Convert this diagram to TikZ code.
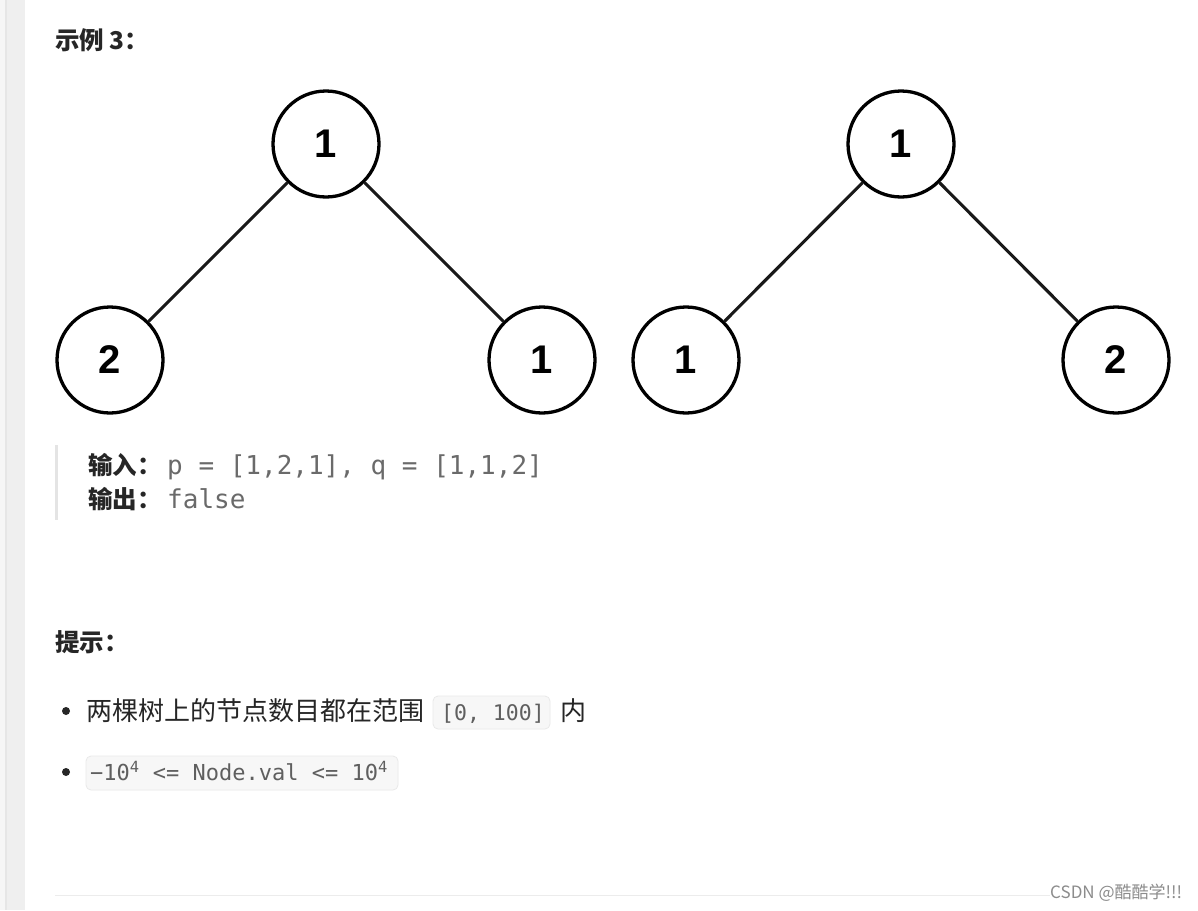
\documentclass[tikz,border=0pt]{standalone}
\usepackage{fontspec}
\setmainfont{Liberation Sans}
\newfontfamily\cjk{Noto Sans CJK SC}
\newfontfamily\monof{DejaVu Sans Mono}
\newfontfamily\digitf{Liberation Sans}
\definecolor{stripA}{HTML}{F6F6F6}
\definecolor{stripB}{HTML}{E6E6E6}
\definecolor{stripC}{HTML}{EFEFEF}
\definecolor{barc}{HTML}{E4E4E4}
\definecolor{txt}{HTML}{262626}
\definecolor{codetxt}{HTML}{6A6A6A}
\definecolor{codebg}{HTML}{F7F7F7}
\definecolor{codebd}{HTML}{E9E9E9}
\definecolor{rulec}{HTML}{ECECEC}
\definecolor{wmark}{HTML}{8C8C8C}
\begin{document}
\begin{tikzpicture}[x=1pt,y=-1pt,
  tn/.style={circle,draw=black,line width=3.3pt,minimum size=106pt,inner sep=0pt,
    font=\digitf\bfseries\fontsize{40}{40}\selectfont},
  edge/.style={line width=3.1pt,draw=black!90},
  lab/.style={anchor=base west,inner sep=0pt,text=txt,font=\cjk\bfseries\fontsize{24.5}{26}\selectfont},
  body/.style={anchor=base west,inner sep=0pt,text=txt,font=\cjk\fontsize{26}{28}\selectfont},
  code/.style={anchor=base west,inner sep=0pt,text=codetxt,font=\monof\fontsize{26}{28}\selectfont},
  icode/.style={anchor=base west,inner sep=0pt,text=codetxt!90!black,font=\monof\fontsize{21.5}{23}\selectfont},
  codebox/.style={fill=codebg,draw=codebd,line width=0.8pt,rounded corners=5pt}]
\fill[white] (0,0) rectangle (1198,910);
\useasboundingbox (0,0) rectangle (1198,910);
% left strip
\fill[stripA] (0,0) rectangle (5,910);
\fill[stripB] (5,0) rectangle (6.5,910);
\fill[stripC] (6.5,0) rectangle (25,910);
% title
\node[lab] (title) at (55,49) {示例 3：};
% tree 1
\node[tn] (a1) at (326,144) {1};
\node[tn] (a2) at (110,360) {2};
\node[tn] (a3) at (542,360) {1};
\draw[edge] (a1) -- (a2);
\draw[edge] (a1) -- (a3);
% tree 2
\node[tn] (b1) at (901,144) {1};
\node[tn] (b2) at (686,360) {1};
\node[tn] (b3) at (1116,360) {2};
\draw[edge] (b1) -- (b2);
\draw[edge] (b1) -- (b3);
% input / output
\fill[barc] (55,445) rectangle (58,520);
\node[lab] (inlab) at (88,474) {输入：};
\node[code] (inval) at (167,474) {p = [1,2,1], q = [1,1,2]};
\node[lab] (outlab) at (88,508) {输出：};
\node[code] (outval) at (167,508) {false};
% hints
\node[lab] (hint) at (55,651) {提示：};
\fill[txt] (66,711) circle (4);
\node[body] (h1) at (86,720) {两棵树上的节点数目都在范围};
\draw[codebox] (433,696) rectangle (550,729);
\node[icode] (h1c) at (441,720) {[0, 100]};
\node[body] (h1e) at (560,720) {内};
\fill[txt] (66,772) circle (4);
\draw[codebox] (86,756) rectangle (398,790);
\node[icode,font=\monof\fontsize{22}{24}\selectfont] (h2c) at (90,780) {−10\textsuperscript{4} <= Node.val <= 10\textsuperscript{4}};
% bottom rule and watermark
\draw[rulec,line width=1pt] (55,895) -- (1050,895);
\node[anchor=base west,inner sep=0pt,text=wmark,font=\cjk\fontsize{17}{19}\selectfont] (wm) at (1050,898) {CSDN @酷酷学!!!};
\end{tikzpicture}
\end{document}
